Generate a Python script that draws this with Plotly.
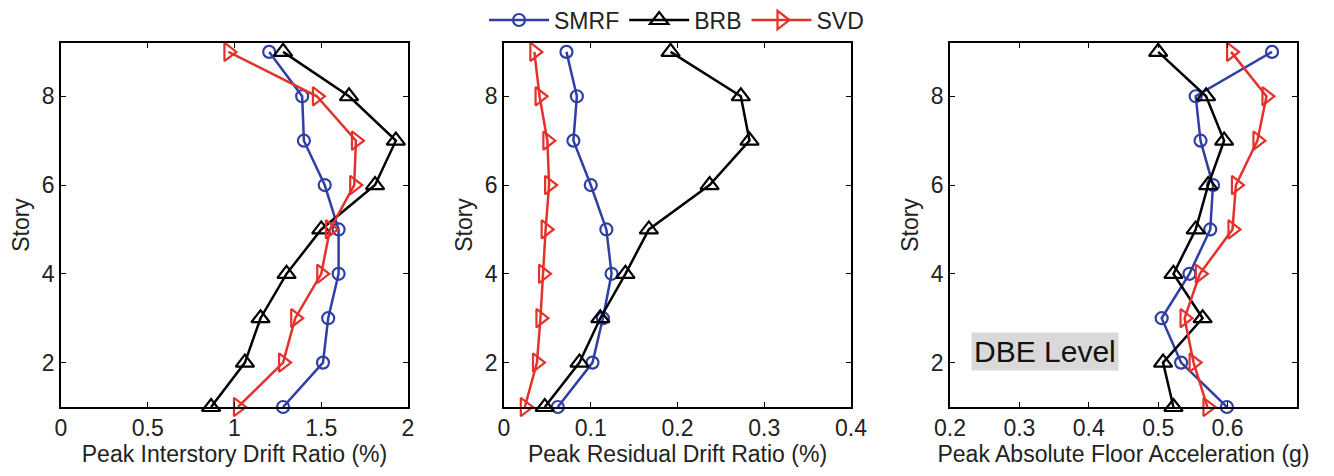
import plotly.graph_objects as go

stories = [9, 8, 7, 6, 5, 4, 3, 2, 1]

# Panel 1: Peak Interstory Drift Ratio (%)
idr_smrf = [1.20, 1.39, 1.40, 1.52, 1.60, 1.60, 1.54, 1.51, 1.28]
idr_brb = [1.28, 1.66, 1.93, 1.81, 1.50, 1.30, 1.15, 1.06, 0.865]
idr_svd = [0.965, 1.475, 1.70, 1.69, 1.55, 1.50, 1.35, 1.28, 1.02]

# Panel 2: Peak Residual Drift Ratio (%)
rdr_smrf = [0.072, 0.084, 0.080, 0.100, 0.118, 0.124, 0.114, 0.102, 0.062]
rdr_brb = [0.192, 0.273, 0.283, 0.237, 0.167, 0.140, 0.111, 0.087, 0.047]
rdr_svd = [0.035, 0.041, 0.050, 0.052, 0.048, 0.045, 0.042, 0.038, 0.024]

# Panel 3: Peak Absolute Floor Acceleration (g)
pfa_smrf = [0.664, 0.554, 0.561, 0.579, 0.575, 0.545, 0.505, 0.533, 0.599]
pfa_brb = [0.500, 0.569, 0.595, 0.572, 0.554, 0.522, 0.564, 0.507, 0.522]
pfa_svd = [0.605, 0.656, 0.643, 0.612, 0.607, 0.560, 0.538, 0.551, 0.571]

series_names = ["SMRF", "BRB", "SVD"]
x_titles = ["Peak Interstory Drift Ratio (%)", "Peak Residual Drift Ratio (%)",
            "Peak Absolute Floor Acceleration (g)"]
x_ranges = [[0, 2], [0, 0.4], [0.2, 0.7]]
x_tickvals = [[0, 0.5, 1, 1.5, 2], [0, 0.1, 0.2, 0.3, 0.4], [0.2, 0.3, 0.4, 0.5, 0.6]]
y_tickvals = [2, 4, 6, 8]
annotation_text = "DBE Level"

colors = ["#2F3FA3", "#000000", "#E3312B"]
symbols = ["circle-open", "triangle-up-open", "triangle-right-open"]
sizes = [12, 16, 16]

panels = [(idr_smrf, idr_brb, idr_svd), (rdr_smrf, rdr_brb, rdr_svd), (pfa_smrf, pfa_brb, pfa_svd)]

W, H = 1334, 476
ml, mr, mt, mb = 61, 37, 43, 69
pw = W - ml - mr
domains = [[0, 347 / pw], [443 / pw, 790 / pw], [889 / pw, 1.0]]

fig = go.Figure()
font = "Liberation Sans, Arial, Helvetica, sans-serif"
FS = 23

for i, data in enumerate(panels):
    xa = "x" if i == 0 else f"x{i+1}"
    ya = "y" if i == 0 else f"y{i+1}"
    for j, vals in enumerate(data):
        fig.add_trace(go.Scatter(
            x=vals, y=stories, mode="lines+markers", name=series_names[j],
            xaxis=xa, yaxis=ya, showlegend=(i == 0), cliponaxis=False,
            line=dict(color=colors[j], width=2.5),
            marker=dict(symbol=symbols[j], size=sizes[j], color=colors[j],
                        line=dict(width=2.2, color=colors[j])),
        ))
    axis_common = dict(showline=True, linecolor="black", linewidth=1.5, mirror="ticks",
                       ticks="inside", ticklen=5, tickwidth=1, tickcolor="black",
                       showgrid=False, zeroline=False,
                       tickfont=dict(family=font, size=FS, color="#222"))
    fig.layout[f"xaxis{'' if i == 0 else i+1}"] = dict(
        domain=domains[i], anchor=ya, range=x_ranges[i], tickvals=x_tickvals[i],
        title=dict(text=x_titles[i], font=dict(family=font, size=FS, color="#222"), standoff=4),
        **axis_common)
    fig.layout[f"yaxis{'' if i == 0 else i+1}"] = dict(
        domain=[0, 1], anchor=xa, range=[1, 9.2], tickvals=y_tickvals,
        title=dict(text="Story", font=dict(family=font, size=FS, color="#222"), standoff=6),
        **axis_common)

fig.add_annotation(
    x=0.23, y=2.24, xref="x3", yref="y3", xanchor="left", yanchor="middle",
    text=annotation_text, showarrow=False, bgcolor="#D9D9D9",
    font=dict(family=font, size=30, color="#111"), borderpad=2,
)

fig.update_layout(
    width=W, height=H,
    margin=dict(l=ml, r=mr, t=mt, b=mb, autoexpand=False),
    plot_bgcolor="white", paper_bgcolor="white",
    legend=dict(orientation="h", x=0.498, xanchor="center", y=1.063, yanchor="middle",
                font=dict(family=font, size=FS, color="#222"), bgcolor="rgba(0,0,0,0)",
                itemwidth=60, tracegroupgap=0),
)

fig.write_html("out.html")
